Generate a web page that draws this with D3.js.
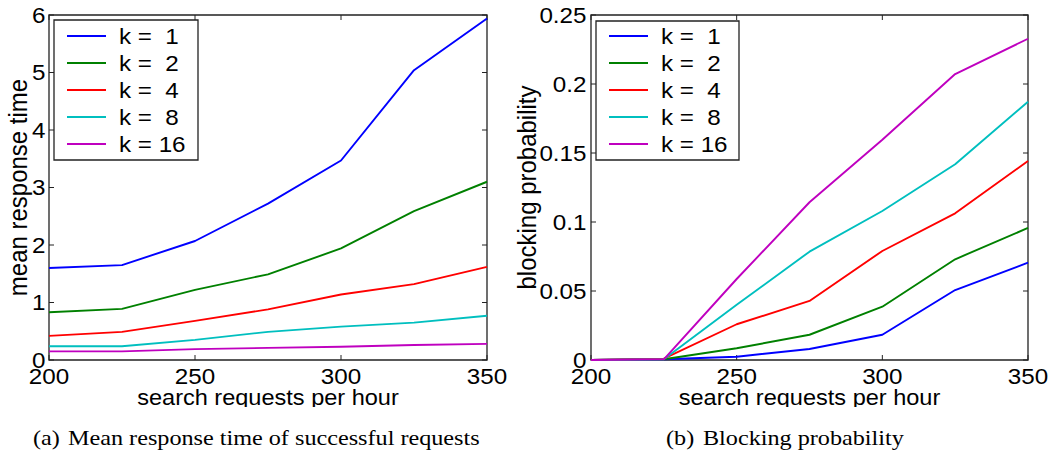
<!DOCTYPE html>
<html><head><meta charset="utf-8">
<script src="https://cdn.jsdelivr.net/npm/d3@7"></script>
<style>body{margin:0;background:#fff}svg{display:block}</style>
</head><body>
<script>
// ---- data ----
const xValues = [200, 225, 250, 275, 300, 325, 350];
const seriesLabels = ["k =  1", "k =  2", "k =  4", "k =  8", "k = 16"];
const seriesColors = ["#0000ff", "#008000", "#ff0000", "#00bfbf", "#bf00bf"];
const respK1 = [1.60, 1.65, 2.07, 2.72, 3.47, 5.04, 5.94];
const respK2 = [0.83, 0.89, 1.22, 1.49, 1.94, 2.59, 3.10];
const respK4 = [0.42, 0.49, 0.68, 0.88, 1.14, 1.32, 1.62];
const respK8 = [0.24, 0.24, 0.35, 0.49, 0.58, 0.65, 0.77];
const respK16 = [0.15, 0.15, 0.19, 0.21, 0.23, 0.26, 0.28];
const blockK1 = [0, 0.0005, 0.0024, 0.008, 0.0183, 0.0507, 0.0705];
const blockK2 = [0, 0.0005, 0.0085, 0.0183, 0.0386, 0.073, 0.0957];
const blockK4 = [0, 0.001, 0.0259, 0.0428, 0.079, 0.1063, 0.1442];
const blockK8 = [0, 0.0005, 0.040, 0.0785, 0.108, 0.1418, 0.1872];
const blockK16 = [0, 0.0005, 0.0587, 0.1143, 0.1596, 0.2072, 0.2328];
const xTicks = [200, 250, 300, 350];
const respTicks = [0, 1, 2, 3, 4, 5, 6];
const respTickLabels = ["0", "1", "2", "3", "4", "5", "6"];
const blockTicks = [0, 0.05, 0.1, 0.15, 0.2, 0.25];
const blockTickLabels = ["0", "0.05", "0.1", "0.15", "0.2", "0.25"];
const xLabel = "search requests per hour";
const respYLabel = "mean response time";
const blockYLabel = "blocking probability";
const captionA = ["(a)", "Mean response time of successful requests"];
const captionB = ["(b)", "Blocking probability"];

// ---- layout ----
const W = 1051, H = 452, SX = 1.1;
const sans = "'Liberation Sans', Arial, Helvetica, sans-serif";
const serif = "'Liberation Serif', 'Times New Roman', serif";
const FS = 22;

const svg = d3.select("body").append("svg")
  .attr("width", W).attr("height", H)
  .attr("viewBox", `0 0 ${W / SX} ${H}`)
  .attr("preserveAspectRatio", "none");

const panels = [
  { x0: 49, x1: 487, y0: 15, y1: 360, yMax: 6, series: [respK1, respK2, respK4, respK8, respK16],
    yTicks: respTicks, yTickLabels: respTickLabels, yLabel: respYLabel, yLabelX: 26.5, yTickEnd: 45.5,
    legend: { x0: 54, y0: 20, x1: 198, y1: 160, lx0: 67, lx1: 106, tx: 119 },
    caption: captionA, capX: [33, 68] },
  { x0: 591, x1: 1028, y0: 15, y1: 360, yMax: 0.25, series: [blockK1, blockK2, blockK4, blockK8, blockK16],
    yTicks: blockTicks, yTickLabels: blockTickLabels, yLabel: blockYLabel, yLabelX: 535.5, yTickEnd: 586.5,
    legend: { x0: 596, y0: 21, x1: 739, y1: 160, lx0: 609, lx1: 648, tx: 661 },
    caption: captionB, capX: [666, 703] }
];

const defs = svg.append("defs");
defs.append("clipPath").attr("id", "xlabClip").append("rect")
  .attr("x", 0).attr("y", 0).attr("width", W).attr("height", 407);

panels.forEach((p, pi) => {
  const g = svg.append("g");
  const x = d3.scaleLinear().domain([200, 350]).range([p.x0 / SX, p.x1 / SX]);
  const y = d3.scaleLinear().domain([0, p.yMax]).range([p.y1, p.y0]);
  const tl = 5;

  // box
  g.append("rect").attr("x", x(200)).attr("y", y(p.yMax))
    .attr("width", x(350) - x(200)).attr("height", y(0) - y(p.yMax))
    .attr("fill", "none").attr("stroke", "#222").attr("stroke-width", 1.3)
    .attr("vector-effect", "non-scaling-stroke");

  // x ticks (bottom & top, inward)
  xTicks.forEach(t => {
    g.append("line").attr("x1", x(t)).attr("x2", x(t)).attr("y1", y(0)).attr("y2", y(0) - tl)
      .attr("stroke", "#222").attr("stroke-width", 1).attr("vector-effect", "non-scaling-stroke");
    g.append("line").attr("x1", x(t)).attr("x2", x(t)).attr("y1", y(p.yMax)).attr("y2", y(p.yMax) + tl)
      .attr("stroke", "#222").attr("stroke-width", 1).attr("vector-effect", "non-scaling-stroke");
    g.append("text").attr("x", x(t)).attr("y", 384).attr("text-anchor", "middle")
      .attr("font-family", sans).attr("font-size", FS).attr("fill", "#000").text(t);
  });
  // y ticks (left & right, inward)
  p.yTicks.forEach((t, i) => {
    g.append("line").attr("x1", x(200)).attr("x2", x(200) + tl / SX).attr("y1", y(t)).attr("y2", y(t))
      .attr("stroke", "#222").attr("stroke-width", 1).attr("vector-effect", "non-scaling-stroke");
    g.append("line").attr("x1", x(350)).attr("x2", x(350) - tl / SX).attr("y1", y(t)).attr("y2", y(t))
      .attr("stroke", "#222").attr("stroke-width", 1).attr("vector-effect", "non-scaling-stroke");
    g.append("text").attr("x", p.yTickEnd / SX).attr("y", y(t)).attr("dy", "0.36em")
      .attr("text-anchor", "end").attr("font-family", sans).attr("font-size", FS).attr("fill", "#000")
      .text(p.yTickLabels[i]);
  });

  // axis labels
  g.append("text").attr("x", (p.x0 + p.x1) / 2 / SX).attr("y", 405.5).attr("text-anchor", "middle")
    .attr("clip-path", "url(#xlabClip)")
    .attr("font-family", sans).attr("font-size", 21.4).attr("fill", "#000").text(xLabel);
  g.append("text").attr("transform", `translate(${p.yLabelX / SX},${(p.y0 + p.y1) / 2}) rotate(-90)`)
    .attr("text-anchor", "middle").attr("font-family", sans).attr("font-size", 24).attr("fill", "#000")
    .text(p.yLabel);

  // lines
  const line = d3.line().x((d, i) => x(xValues[i])).y(d => y(d));
  p.series.forEach((s, si) => {
    g.append("path").datum(s).attr("d", line).attr("fill", "none")
      .attr("stroke", seriesColors[si]).attr("stroke-width", 1.9)
      .attr("stroke-linejoin", "round").attr("vector-effect", "non-scaling-stroke");
  });

  // legend
  const L = p.legend;
  g.append("rect").attr("x", L.x0 / SX).attr("y", L.y0).attr("width", (L.x1 - L.x0) / SX).attr("height", L.y1 - L.y0)
    .attr("fill", "#fff").attr("stroke", "#222").attr("stroke-width", 1.3).attr("vector-effect", "non-scaling-stroke");
  seriesLabels.forEach((lab, si) => {
    const cy = 36 + si * 27;
    g.append("line").attr("x1", L.lx0 / SX).attr("x2", L.lx1 / SX).attr("y1", cy).attr("y2", cy)
      .attr("stroke", seriesColors[si]).attr("stroke-width", 1.9).attr("vector-effect", "non-scaling-stroke");
    g.append("text").attr("x", L.tx / SX).attr("y", cy).attr("dy", "0.36em")
      .attr("xml:space", "preserve").style("white-space", "pre")
      .attr("font-family", sans).attr("font-size", FS).attr("fill", "#000").text(lab);
  });

  // caption
  g.append("text").attr("x", p.capX[0] / SX).attr("y", 445).attr("font-family", serif)
    .attr("font-size", FS).attr("fill", "#000").text(p.caption[0]);
  g.append("text").attr("x", p.capX[1] / SX).attr("y", 445).attr("font-family", serif)
    .attr("font-size", FS).attr("fill", "#000").text(p.caption[1]);
});
</script>
</body></html>
